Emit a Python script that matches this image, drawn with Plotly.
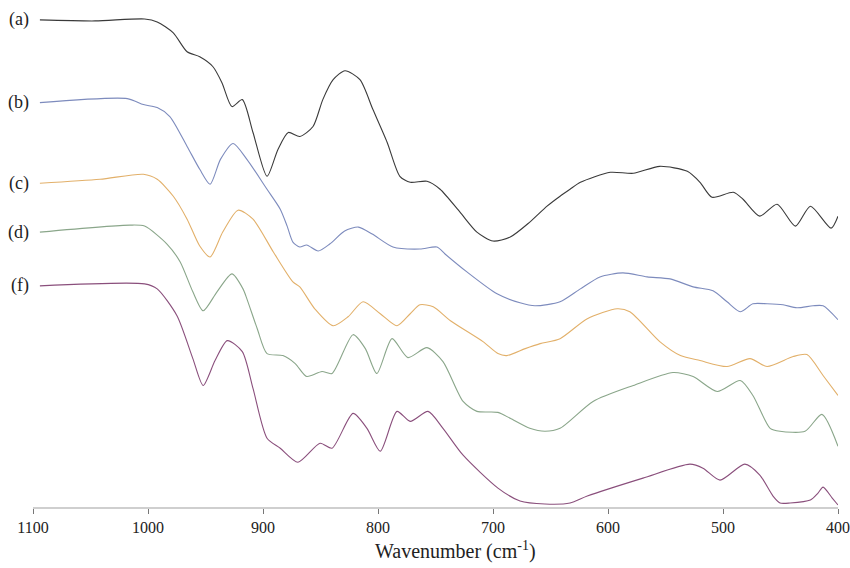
import plotly.graph_objects as go

# Wavenumber (cm-1) and relative transmittance (offset, a.u.)
wn_a = [1094, 1046, 1003, 992, 978, 966, 955, 943.5, 935.7, 927, 918, 908.7, 896.5, 887, 878, 868,
        856.5, 848, 839, 828.7, 815.7, 804.4, 792, 781, 772, 757.4, 746, 728.7, 714, 700, 685, 668,
        653, 641.7, 633, 624, 598, 578, 555, 531, 520, 509.6, 491, 482.6, 468, 453, 437, 424, 406, 400]
t_a = [487, 486, 488, 485, 474, 455, 450, 440, 424, 400, 407, 374, 330, 357, 374, 370,
       380, 407, 427, 436, 427, 397, 364, 330, 324, 325, 317, 294, 274, 265, 269, 284,
       300, 310, 317, 324, 334, 333, 340, 335, 324, 309, 314, 307, 290, 302, 280, 300, 278, 290]

wn_b = [1094, 1018, 1004, 992, 981, 966, 955, 946, 937, 926, 914, 896.5, 885, 879, 874, 868, 862,
        852, 842, 829, 817, 805, 787, 763.5, 748.7, 741.7, 722.7, 696.5, 676.5, 663.5, 641.7, 624,
        607, 587, 566, 546, 526, 508.7, 496.5, 485, 474, 461.7, 447.8, 435.7, 421.7, 413, 400]
t_b = [404, 408, 402, 399, 390, 360, 337, 322, 347, 363, 347, 317, 297, 280, 264, 259, 261,
       255, 262, 275, 279, 272, 259, 257, 259, 252, 234, 212, 203, 200, 204, 217,
       229, 233, 229, 227, 219, 215, 204, 194, 202, 202, 201, 198, 200, 200, 186]

wn_c = [1094, 1041.7, 1004, 992, 978, 966, 955, 946, 935, 921.7, 908.7, 891, 874, 868, 855, 839,
        826, 813, 798, 783.5, 772, 763.5, 752, 737, 708.7, 695.7, 688, 672, 659, 641.7, 618, 592,
        581, 555, 537, 520, 496.5, 476.5, 461.7, 439, 427, 413, 400]
t_c = [323, 327, 332, 327, 310, 287, 260, 249, 274, 296, 287, 254, 224, 219, 197, 180,
       189, 204, 192, 180, 192, 201, 199, 185, 164, 152, 150, 157, 162, 167, 187, 197,
       194, 164, 150, 145, 139, 147, 139, 149, 151, 130, 110]

wn_d = [1094, 1015.7, 1003, 983.5, 972, 961, 952, 940, 927, 917.4, 914, 905, 896.5, 882.7, 872, 862,
        848.7, 840, 821.7, 811, 801, 787.8, 774, 757.4, 743.5, 726, 714, 695.7, 685, 668, 654.8,
        641.7, 613, 578, 543.5, 526, 505, 485, 474, 459, 450.4, 428.7, 414, 400]
t_d = [274, 281, 280, 262, 244, 214, 195, 214, 232, 217, 207, 177, 152, 150, 142, 129,
       134, 132, 171, 157, 132, 167, 148, 158, 144, 104, 94, 93, 87, 77, 74,
       77, 104, 120, 133, 129, 114, 125, 110, 77, 74, 74, 91, 59]

wn_f = [1094, 1003, 992, 974.8, 961, 952, 941.7, 931, 918, 908.7, 896.5, 885, 869.6, 850.4, 840,
        821.7, 809.6, 798, 783.5, 772, 756.5, 743.5, 726, 695.7, 676.5, 654.8, 633, 618, 569.6,
        528.7, 517.4, 502.6, 481, 468, 456.5, 450.4, 441.7, 424, 417.4, 413, 405, 400]
t_f = [220, 222, 217, 190, 147, 120, 145, 165, 154, 117, 67, 57, 43, 62, 57,
       92, 77, 54, 94, 84, 94, 77, 50, 17, 4, 1, 2, 9, 27,
       41, 37, 25, 41, 30, 9, 2, 2, 5, 12, 18, 7, 0]

labels = ["(a)", "(b)", "(c)", "(d)", "(f)"]
colors = ["#3a3a3a", "#7d8bbd", "#e2b06a", "#8aa68a", "#8a4f7c"]
series = [(wn_a, t_a), (wn_b, t_b), (wn_c, t_c), (wn_d, t_d), (wn_f, t_f)]

tick_vals = [1100, 1000, 900, 800, 700, 600, 500, 400]
tick_text = ["1100", "1000", "900", "800", "700", "600", "500", "400"]

SERIF = "Liberation Serif, Times New Roman, serif"

fig = go.Figure()
for (x, y), lab, col in zip(series, labels, colors):
    fig.add_trace(go.Scatter(x=x, y=y, mode="lines", name=lab,
                             line=dict(color=col, width=1.1, shape="spline", smoothing=0.7),
                             hoverinfo="x+y+name"))
    fig.add_annotation(x=-0.003, xref="paper", y=y[0], yref="y", text=lab,
                       showarrow=False, xanchor="right", yanchor="middle",
                       font=dict(family=SERIF, size=18, color="#222"))

fig.add_annotation(x=0.525, xref="paper", y=-0.085, yref="paper",
                   text="Wavenumber (cm<sup>-1</sup>)", showarrow=False,
                   xanchor="center", yanchor="middle",
                   font=dict(family=SERIF, size=20, color="#222"))

fig.update_layout(
    width=850, height=568,
    margin=dict(l=33, r=12, t=0, b=61, autoexpand=False),
    paper_bgcolor="white", plot_bgcolor="white",
    showlegend=False,
    xaxis=dict(range=[1100, 400], tickvals=tick_vals, ticktext=tick_text, automargin=False,
               ticklabeloverflow="allow",
               showgrid=False, zeroline=False, showline=True, linecolor="#cfcfcf", linewidth=1.5,
               ticks="outside", ticklen=5, tickcolor="#777", tickwidth=1,
               tickfont=dict(family=SERIF, size=16, color="#222")),
    yaxis=dict(range=[-2, 507], visible=False, showgrid=False, zeroline=False, automargin=False),
)

fig.write_html("out.html",
               config={"displayModeBar": False},
               post_script="document.body.style.margin='0';document.body.style.overflow='hidden';")
